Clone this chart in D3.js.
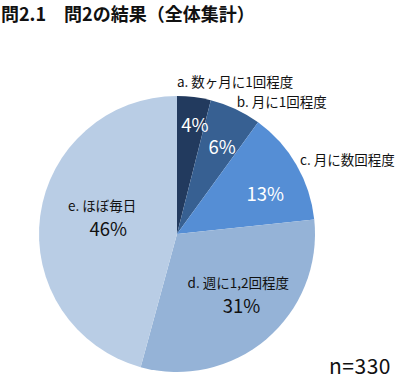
<!DOCTYPE html>
<html>
<head>
<meta charset="utf-8">
<script src="https://cdn.jsdelivr.net/npm/d3@7"></script>
<style>
  body { margin: 0; background: #fff; }
  text { font-family: "Noto Sans CJK JP", "Noto Sans", sans-serif; }
</style>
</head>
<body>
<svg id="chart" width="400" height="385"></svg>
<script>
// data (n=330)
const categories = ["a. 数ヶ月に1回程度", "b. 月に1回程度", "c. 月に数回程度", "d. 週に1,2回程度", "e. ほぼ毎日"];
const counts = [13, 20, 44, 102, 151];
const percentLabels = ["4%", "6%", "13%", "31%", "46%"];
const colors = ["#223a5e", "#376092", "#558ed5", "#95b3d7", "#b9cde5"];
const total = d3.sum(counts);

const svg = d3.select("#chart"),
    cx = 177, cy = 234, r = 138;

svg.append("text")
    .attr("x", 1).attr("y", 21)
    .style("font-size", "18px").style("font-weight", "bold")
    .style("fill", "#111")
    .text("問2.1\u3000問2の結果（全体集計）");

const pie = d3.pie().sort(null).value(d => d);
const arcs = pie(counts);
const arc = d3.arc().innerRadius(0).outerRadius(r);

const g = svg.append("g").attr("transform", `translate(${cx},${cy})`);

g.selectAll("path")
    .data(arcs)
    .enter().append("path")
    .attr("d", arc)
    .attr("fill", (d, i) => colors[i]);

// label layout: radius factor, angle nudge (deg), anchor
const pctPos = [[0.80, 2.3], [0.71, 2.3], [0.70, 6], [0.70, -1.5], [0.50, -3.5]];
const namePos = [[1.10, -7.1, "start"], [1.05, -0.7, "start"], [1.04, -1, "start"], [0.57, -10.8, "middle"], [0.58, 12.9, "middle"]];
const polar = (a, rr) => [rr * Math.sin(a), -rr * Math.cos(a)];
const mid = d => (d.startAngle + d.endAngle) / 2;
const deg = Math.PI / 180;

arcs.forEach((d, i) => {
    const [pf, pa] = pctPos[i];
    const p = polar(mid(d) + pa * deg, pf * r);
    g.append("text")
        .attr("x", p[0]).attr("y", p[1])
        .attr("dy", "0.36em")
        .attr("text-anchor", "middle")
        .style("font-size", "18.5px")
        .style("fill", i < 3 ? "#fff" : "#111")
        .text(percentLabels[i]);

    const [nf, na, anchor] = namePos[i];
    const q = polar(mid(d) + na * deg, nf * r);
    g.append("text")
        .attr("x", q[0]).attr("y", q[1])
        .attr("dy", "0.36em")
        .attr("text-anchor", anchor)
        .style("font-size", "13.5px")
        .style("fill", "#111")
        .text(categories[i]);
});

svg.append("text")
    .attr("x", 391).attr("y", 374)
    .attr("text-anchor", "end")
    .style("font-size", "21px")
    .style("letter-spacing", "0.5px")
    .style("fill", "#111")
    .text("n=" + total);
</script>
</body>
</html>
